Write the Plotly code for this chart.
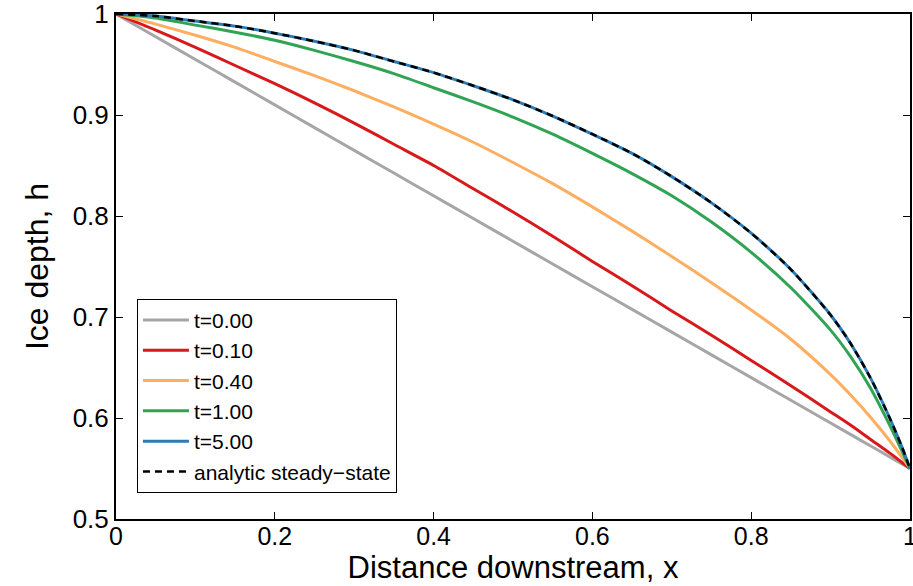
import plotly.graph_objects as go

x = [0.0, 0.05, 0.1, 0.15, 0.2, 0.25, 0.3, 0.35, 0.4, 0.45, 0.5, 0.55, 0.6, 0.65,
     0.7, 0.75, 0.8, 0.85, 0.9, 0.925, 0.95, 0.975, 0.99, 1.0]

h_t000 = [1.000, 0.9775, 0.955, 0.9325, 0.910, 0.8875, 0.865, 0.8425, 0.820, 0.7975, 0.775, 0.7525,
          0.730, 0.7075, 0.685, 0.6625, 0.640, 0.6175, 0.595, 0.58375, 0.5725, 0.56125, 0.5545, 0.550]
h_t010 = [1.000, 0.984, 0.967, 0.949, 0.931, 0.912, 0.892, 0.871, 0.850, 0.827, 0.804, 0.780,
          0.755, 0.731, 0.706, 0.682, 0.657, 0.632, 0.606, 0.593, 0.579, 0.565, 0.556, 0.550]
h_t040 = [1.000, 0.990, 0.979, 0.967, 0.953, 0.939, 0.924, 0.908, 0.891, 0.873, 0.853, 0.832,
          0.809, 0.785, 0.760, 0.734, 0.707, 0.678, 0.643, 0.623, 0.601, 0.577, 0.561, 0.550]
h_t100 = [1.000, 0.996, 0.989, 0.982, 0.974, 0.964, 0.953, 0.941, 0.927, 0.913, 0.898, 0.881,
          0.862, 0.842, 0.820, 0.794, 0.764, 0.729, 0.687, 0.661, 0.630, 0.592, 0.567, 0.550]
h_t500 = [1.000, 0.998, 0.993, 0.988, 0.981, 0.973, 0.964, 0.953, 0.942, 0.929, 0.915, 0.899,
          0.881, 0.862, 0.839, 0.813, 0.783, 0.747, 0.702, 0.674, 0.640, 0.599, 0.571, 0.550]
h_analytic = [1.000, 0.998, 0.993, 0.988, 0.981, 0.973, 0.964, 0.953, 0.942, 0.929, 0.915, 0.899,
              0.881, 0.862, 0.839, 0.813, 0.783, 0.747, 0.702, 0.674, 0.640, 0.599, 0.571, 0.550]

names = ["t=0.00", "t=0.10", "t=0.40", "t=1.00", "t=5.00"]
colors = ["#a6a6a6", "#d7191c", "#fdae61", "#31a354", "#2c7bb6"]
series = [h_t000, h_t010, h_t040, h_t100, h_t500]

x_ticks = [0, 0.2, 0.4, 0.6, 0.8, 1]
x_ticklabels = ["0", "0.2", "0.4", "0.6", "0.8", "1"]
y_ticks = [0.5, 0.6, 0.7, 0.8, 0.9, 1]
y_ticklabels = ["0.5", "0.6", "0.7", "0.8", "0.9", "1"]

fig = go.Figure()
for n, c, h in zip(names, colors, series):
    fig.add_trace(go.Scatter(x=x, y=h, mode="lines", name=n,
                             line=dict(color=c, width=3, shape="spline", smoothing=0.7)))
fig.add_trace(go.Scatter(x=x, y=h_analytic, mode="lines", name="analytic steady\u2212state",
                         line=dict(color="black", width=2.5, dash="7px,5px", shape="spline", smoothing=0.7)))

font = "Liberation Sans, Arial, Helvetica, sans-serif"
axis_common = dict(showline=True, linecolor="black", linewidth=2, mirror="allticks",
                   ticks="inside", ticklen=7, tickwidth=1, tickcolor="black",
                   showgrid=False, zeroline=False, automargin=False,
                   ticklabeloverflow="allow")

fig.update_layout(
    width=913, height=586,
    margin=dict(l=116, r=3, t=14, b=67),
    paper_bgcolor="white", plot_bgcolor="white",
    font=dict(family=font, color="black"),
    xaxis=dict(range=[0, 1], tickvals=x_ticks, ticktext=x_ticklabels,
               tickfont=dict(family=font, size=25, color="black"),
               ticklabelstandoff=-6,
               title=dict(text="Distance downstream, x", font=dict(family=font, size=31), standoff=0),
               **axis_common),
    yaxis=dict(range=[0.5, 1], tickvals=y_ticks, ticktext=y_ticklabels,
               tickfont=dict(family=font, size=26, color="black"),
               title=dict(text="Ice depth, h", font=dict(family=font, size=32), standoff=14),
               **axis_common),
    legend=dict(x=0.0264, y=0.436, xanchor="left", yanchor="top",
                bgcolor="white", bordercolor="black", borderwidth=1,
                font=dict(family=font, size=21, color="black"),
                itemwidth=46, tracegroupgap=0),
    showlegend=True,
)

fig.write_html("out.html")
